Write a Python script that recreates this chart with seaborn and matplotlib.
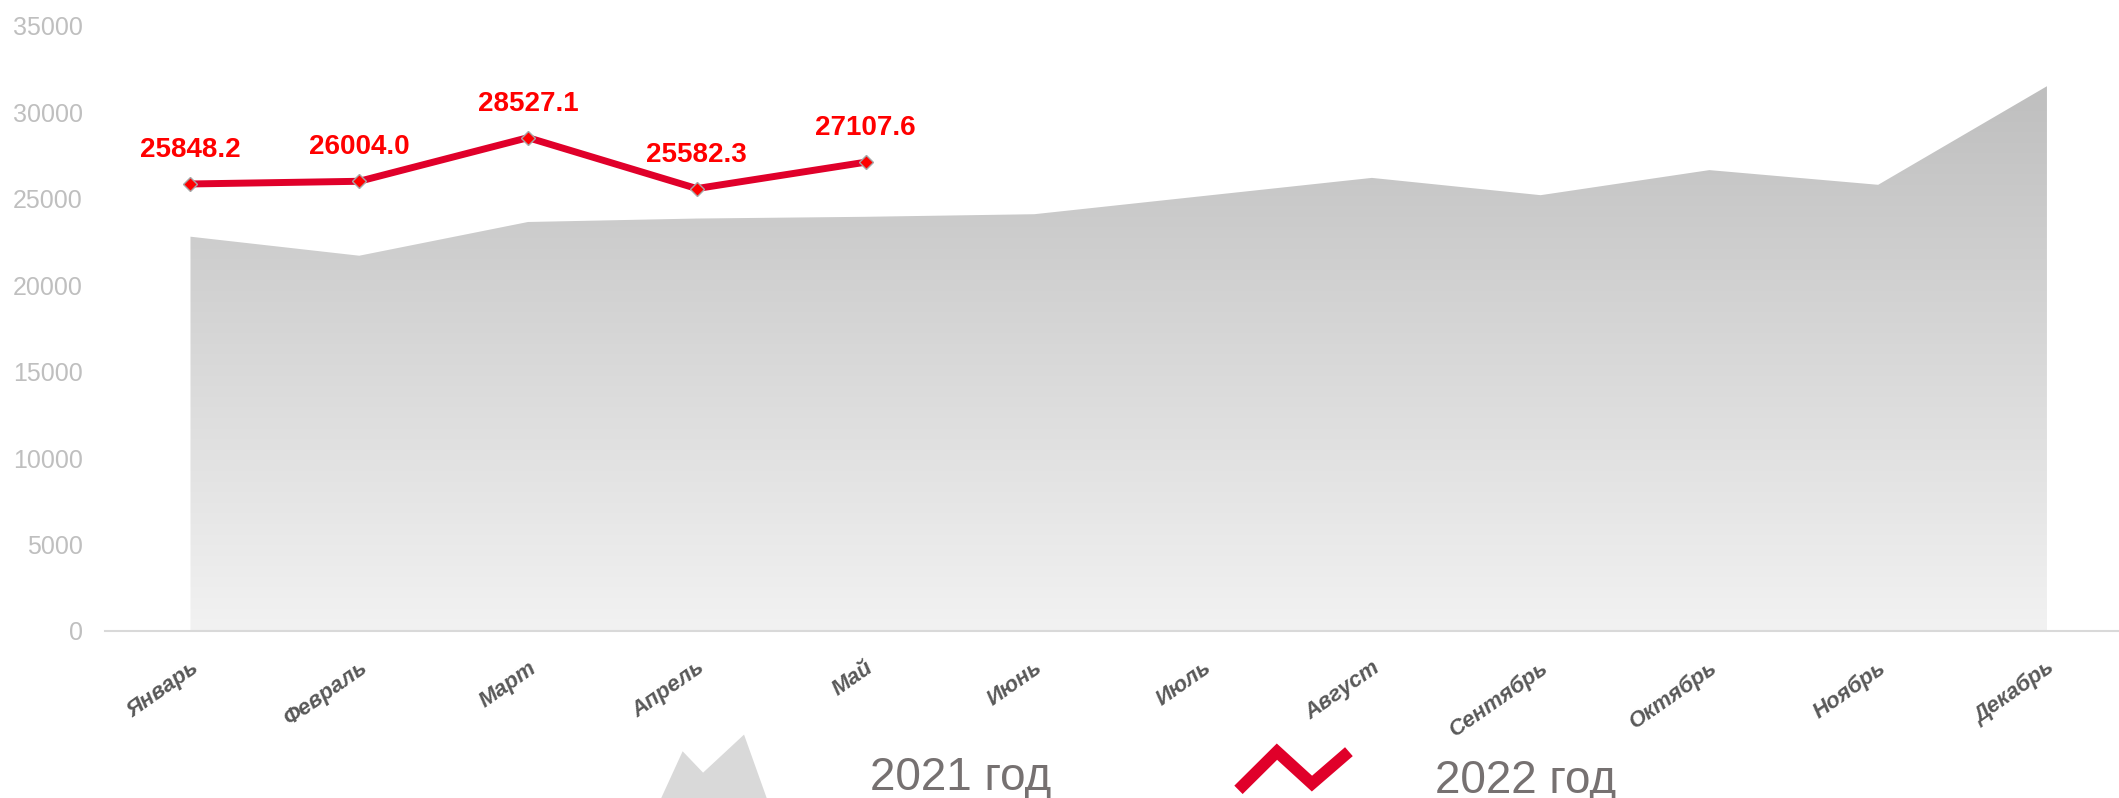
import numpy as np
import pandas as pd
import matplotlib
matplotlib.use("Agg")
import matplotlib.pyplot as plt
import seaborn as sns
from matplotlib.colors import LinearSegmentedColormap
from matplotlib.legend_handler import HandlerBase
from matplotlib.patches import Polygon, Patch
from matplotlib.lines import Line2D

# ---------------- data ----------------
months = ["Январь", "Февраль", "Март", "Апрель", "Май", "Июнь",
          "Июль", "Август", "Сентябрь", "Октябрь", "Ноябрь", "Декабрь"]
values_2021 = [22800, 21700, 23650, 23850, 23950, 24100,
               25150, 26200, 25200, 26650, 25800, 31500]
values_2022 = [25848.2, 26004.0, 28527.1, 25582.3, 27107.6]
labels_2022 = ["25848.2", "26004.0", "28527.1", "25582.3", "27107.6"]
y_ticks = [0, 5000, 10000, 15000, 20000, 25000, 30000, 35000]
series_names = ["2021 год", "2022 год"]

# ---------------- style ----------------
sns.set_theme(style="white")
plt.rcParams["font.family"] = ["Liberation Sans", "DejaVu Sans"]

W, H = 2119, 798
fig = plt.figure(figsize=(W / 100, H / 100), dpi=100)
ax = fig.add_axes([105 / W, 167 / H, (W - 105) / W, 605.3 / H])

x_idx = np.arange(len(months))

# 2021: area with vertical gradient
area = ax.fill_between(x_idx, 0, values_2021, color="none", lw=0)
grad = np.linspace(0, 1, 256).reshape(-1, 1)
cmap = LinearSegmentedColormap.from_list("g", ["#f2f2f2", "#b9b9b9"])
img = ax.imshow(grad, extent=[x_idx[0], x_idx[-1], 0, 35000], origin="lower",
                aspect="auto", cmap=cmap, zorder=1, interpolation="bicubic")
img.set_clip_path(area.get_paths()[0], transform=ax.transData)

# 2022: line with markers
df22 = pd.DataFrame({"x": np.arange(len(values_2022)), "y": values_2022})
sns.lineplot(data=df22, x="x", y="y", ax=ax, color="#e0002a", lw=5,
             marker="D", markersize=7.5, markerfacecolor="#ff0000",
             markeredgecolor="#a6a6a6", markeredgewidth=1, zorder=3)
for i, (v, lab) in enumerate(zip(values_2022, labels_2022)):
    ax.annotate(lab, (i, v), xytext=(0, 24.5), textcoords="offset points",
                ha="center", va="center", fontsize=20, fontweight="bold",
                color="#ff0000", zorder=4)

# axes
ax.set_xlim(-0.5065, 11.427)
ax.set_ylim(0, 35000)
ax.set_xticks(x_idx, months)
ax.set_yticks(y_ticks)
ax.set_xlabel("")
ax.set_ylabel("")
ax.grid(False)
ax.tick_params(axis="x", length=0, pad=19, labelsize=16, labelcolor="#595959")
ax.tick_params(axis="y", length=0, pad=16, labelsize=18, labelcolor="#bfbfbf")
for t in ax.get_xticklabels():
    t.set_rotation(35)
    t.set_ha("right")
    t.set_rotation_mode("anchor")
    t.set_fontweight("bold")
    t.set_fontstyle("italic")
for s in ["left", "top", "right"]:
    ax.spines[s].set_visible(False)
ax.spines["bottom"].set_color("#d9d9d9")
ax.spines["bottom"].set_linewidth(1.5)


# ---------------- legend ----------------
class MountainHandler(HandlerBase):
    def create_artists(self, legend, orig_handle, xdescent, ydescent,
                       width, height, fontsize, trans):
        pts = [(-8.2, -8), (8.1, 27.6), (22.8, 12.2), (52.3, 39.6), (69.3, -8)]
        return [Polygon(pts, closed=True, facecolor="#d9d9d9",
                        edgecolor="none", transform=trans)]


class ZigzagHandler(HandlerBase):
    def create_artists(self, legend, orig_handle, xdescent, ydescent,
                       width, height, fontsize, trans):
        ln = Line2D([1.5, 29.2, 54.4, 81.0], [2.0, 29.5, 6.5, 29.5],
                    color="#e0002a", lw=8.5, solid_joinstyle="miter",
                    solid_capstyle="butt", transform=trans)
        return [ln]


h1 = Patch(facecolor="#d9d9d9")
h2 = Line2D([], [], color="#e0002a")
common = dict(loc="lower left", bbox_transform=fig.transFigure, frameon=False,
              fontsize=33, handlelength=2.5, handletextpad=1.833,
              borderpad=0, borderaxespad=0, labelcolor="#767171")
fig.legend(handles=[h1], labels=[series_names[0]],
           handler_map={h1: MountainHandler()},
           bbox_to_anchor=(671.4 / W, -0.002), **common)
fig.legend(handles=[h2], labels=[series_names[1]],
           handler_map={h2: ZigzagHandler()},
           bbox_to_anchor=(1236.4 / W, -0.0058), **common)

fig.savefig("out.png", dpi=100)
